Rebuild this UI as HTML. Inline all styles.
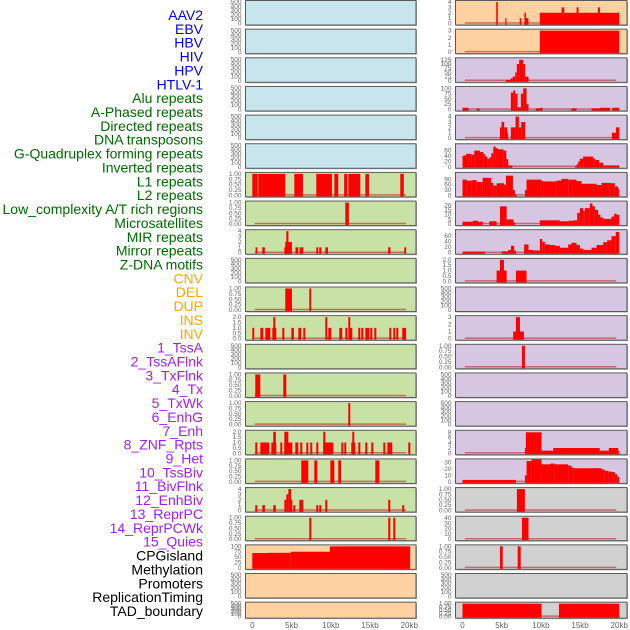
<!DOCTYPE html>
<html><head><meta charset="utf-8"><style>
html,body{margin:0;padding:0;background:#fff;width:630px;height:630px;overflow:hidden}
svg{display:block}
.lab{font-family:"Liberation Sans",sans-serif;font-size:14px}
.tk{font-family:"Liberation Sans",sans-serif;font-size:6.5px;fill:#666}
.xt{font-family:"Liberation Sans",sans-serif;font-size:8px;fill:#666}
</style></head><body>
<svg id="chart" width="630" height="630"></svg>
<script>
// ---- labels ----
const labelNames = ["AAV2","EBV","HBV","HIV","HPV","HTLV-1","Alu repeats","A-Phased repeats","Directed repeats","DNA transposons","G-Quadruplex forming repeats","Inverted repeats","L1 repeats","L2 repeats","Low_complexity A/T rich regions","Microsatellites","MIR repeats","Mirror repeats","Z-DNA motifs","CNV","DEL","DUP","INS","INV","1_TssA","2_TssAFlnk","3_TxFlnk","4_Tx","5_TxWk","6_EnhG","7_Enh","8_ZNF_Rpts","9_Het","10_TssBiv","11_BivFlnk","12_EnhBiv","13_ReprPC","14_ReprPCWk","15_Quies","CPGisland","Methylation","Promoters","ReplicationTiming","TAD_boundary"];
const labelGroupSizes = [6,13,5,15,5];
const groupColors = ["#0000ee","#006a00","#ffa500","#a020f0","#000000"];
// ---- axis ----
const xTickKb = [0,5,10,15,20];
const xTickLabels = ["0","5kb","10kb","15kb","20kb"];
const t500 = [0,100,200,300,400,500];
const t1 = [0,0.25,0.5,0.75,1];
const t1Lab = ["0.00","0.25","0.50","0.75","1.00"];
const t2 = [0,0.5,1,1.5,2];
const t2Lab = ["0.0","0.5","1.0","1.5","2.0"];
// ---- left column data: [startKb, endKb, value] ----
const L6 = [[0,0.68,1],[0.76,4.2,1],[5.35,6.45,1],[8.15,10.15,1],[10.45,10.95,1],[11.7,12.1,1],[12.23,13.76,1],[14.4,14.86,1],[18.85,19.3,1]];
const L7 = [[11.85,12.3,1]];
const L8 = [[0.42,0.64,1],[1.27,1.6,1],[4.08,4.33,1],[4.2,4.54,2],[4.33,4.6,4],[4.54,5.05,2],[5.5,5.86,1],[6.03,6.5,1],[8.15,8.4,1],[8.53,8.8,1],[9.3,9.64,1],[17.3,17.6,1],[19.36,19.6,1]];
const L10 = [[4.2,5.05,1],[7.26,7.5,1]];
const L11 = [[0,0.25,1],[1.02,1.4,1],[1.66,2.29,1],[2.55,3.06,1],[2.67,2.93,2],[3.82,4.08,1],[4.97,5.3,1],[5.86,6.24,1],[6.5,6.75,1],[9.3,9.55,2],[9.68,10.06,1],[11.08,11.46,1],[11.85,12.1,1],[12.23,12.48,2],[12.36,12.74,1],[13.5,13.76,1],[13.88,14.14,1],[14.4,14.9,1],[15.03,15.29,1],[15.54,15.8,1],[17.45,17.7,1],[17.96,18.2,1],[18.34,18.6,1],[19.1,19.6,1]];
const L13 = [[0.38,1.02,1],[3.95,4.33,1]];
const L14 = [[12.23,12.48,1]];
const L15 = [[0.38,0.64,1],[1.02,2.17,1],[2.42,3.06,1],[2.67,3.0,2],[3.57,3.82,1],[4.08,5.1,1],[4.08,4.59,2],[5.48,5.86,1],[6.11,6.37,1],[6.88,7.13,1],[7.39,7.64,1],[8.15,8.41,1],[9.04,10.32,1],[9.04,9.3,2],[11.34,11.59,1],[11.72,11.97,1],[12.61,13.12,1],[12.74,12.99,2],[13.5,13.76,1],[14.39,14.65,1],[15.16,15.41,1],[16.69,16.94,1],[17.2,17.83,1],[19.87,20.13,1]];
const L16 = [[6.24,7.13,1],[7.9,8.28,1],[9.94,10.45,1],[10.95,11.3,1],[15.67,16.18,1]];
const L17 = [[0.38,0.64,1],[1.27,1.6,1],[2.67,3.0,1],[4.08,4.33,2],[4.33,4.59,3],[4.59,4.93,4],[4.93,5.1,2],[5.22,5.48,1],[5.99,6.5,2],[8.15,8.41,1],[8.53,8.8,1],[9.3,9.55,2],[17.32,17.58,2],[19.1,19.36,1]];
const L18 = [[7.26,7.52,1],[17.32,17.58,1],[17.96,18.21,1]];
const L19 = [[0,2,69],[2,4.9,70],[4.9,9.9,75],[9.9,20.1,100]];
// ---- right column data ----
const R0 = [[4.3,4.5,4],[5.45,5.6,1],[7.3,7.5,1],[7.9,8.1,2],[8.1,8.4,1],[9.87,20,2],[12.64,12.98,3],[14.55,14.8,3],[17.28,17.53,3]];
const R1 = [[9.87,20,3]];
const R2 = [[5.53,6.13,5],[6.13,6.4,15],[6.4,6.72,25],[6.72,6.93,50],[6.93,7.23,100],[7.23,7.74,125],[7.74,8.0,100],[8.0,8.42,25]];
const R3 = [[0,0.77,8],[1.83,2.17,5],[6.17,6.47,80],[6.47,6.72,90],[6.72,7.02,75],[7.02,7.45,10],[7.45,7.74,75],[7.74,8.17,100],[8.17,8.42,25],[9.36,9.9,5],[9.9,10.2,8],[13.9,14.55,5],[16.47,17.53,5],[17.53,18.8,8],[19.1,20,8]];
const R4 = [[4.77,4.98,2],[4.98,5.32,3],[5.32,5.7,2],[5.7,5.79,1],[6.17,6.77,2],[6.77,7.19,4],[7.19,7.49,2],[7.49,8.0,3],[19.06,19.57,1],[19.57,20,2]];
const R5 = [[0,0.13,40],[0.13,0.45,42],[0.45,1.13,48],[1.13,1.5,45],[1.5,2.23,60],[2.23,2.65,55],[2.65,2.87,47],[2.87,3.16,38],[3.16,3.42,30],[3.42,3.67,35],[3.67,3.93,50],[3.93,4.22,75],[4.22,4.48,70],[4.48,5.2,65],[5.2,5.59,60],[5.59,5.84,28],[5.84,6.35,5],[14.37,14.58,3],[14.58,14.75,10],[14.75,14.97,20],[14.97,15.39,30],[15.39,16.66,38],[16.66,16.96,30],[16.96,17.43,25],[17.43,17.94,15],[17.94,20,5]];
const R6 = [[0,0.53,88],[0.53,1.17,82],[1.17,1.8,85],[1.8,2.57,75],[2.57,3.63,98],[3.63,3.93,70],[3.93,4.35,55],[4.35,5.29,68],[5.29,5.54,60],[5.54,6.43,110],[6.43,6.68,30],[6.68,6.9,5],[7.96,8.17,30],[8.17,10.08,88],[10.08,10.3,80],[10.3,12.0,78],[12.0,12.63,83],[12.63,13.48,92],[13.48,14.54,88],[14.54,15.18,80],[15.18,17.09,65],[17.09,17.73,58],[17.73,18.79,70],[18.79,19.43,68],[19.43,19.85,50],[19.85,20,38]];
const R7 = [[0,1.3,2.5],[1.3,2.0,3.5],[2.0,2.57,2.5],[3.42,4.35,3],[4.78,5.63,19],[5.63,6.47,5],[6.47,6.68,2],[9.87,12.42,4],[12.42,13.48,3],[13.48,14.12,3.5],[14.12,14.63,4],[14.63,14.97,12],[14.97,15.4,17],[15.4,15.6,14],[15.6,16.24,17],[16.24,16.58,22],[16.58,16.88,19],[16.88,17.3,15],[17.3,17.6,10],[17.6,17.94,7],[17.94,19.0,5.5],[19.0,19.34,8],[19.34,19.64,11],[19.64,20,10]];
const R8 = [[0,2.87,4],[4.99,5.84,5],[5.84,6.18,10],[6.18,6.6,25],[6.6,6.82,8],[7.86,8.42,30],[8.42,9.02,10],[9.02,9.87,8],[9.87,10.17,50],[10.17,10.5,40],[10.5,11.15,30],[11.15,11.78,28],[11.78,12.42,25],[12.42,13.48,18],[13.48,13.9,30],[13.9,14.54,36],[14.54,14.97,28],[14.97,15.4,15],[15.4,16.46,10],[16.46,17.1,18],[17.1,17.94,28],[17.94,18.45,38],[18.45,19.0,45],[19.0,19.55,60],[19.55,20,75]];
const R9 = [[4.35,4.78,1],[4.78,5.29,2],[5.29,5.63,1],[6.82,8.17,1]];
const R11 = [[6.47,6.82,1],[6.82,7.33,3],[7.33,7.83,1]];
const R12 = [[7.58,7.96,1]];
const R15 = [[7.96,8.08,2],[8.08,10.08,8],[10.08,11.57,1],[11.57,17.5,2],[17.5,18.66,1],[18.66,19.87,2],[19.87,20,1]];
const R16 = [[0,6.82,3],[7.96,8.17,10],[8.17,8.81,32],[8.81,10.08,35],[10.08,11.15,27],[11.15,11.78,28],[11.78,13.48,27],[13.48,13.9,25],[13.9,14.2,22],[14.2,17.73,21],[17.73,18.15,19],[18.15,18.58,17],[18.58,19.0,16],[19.0,19.43,15],[19.43,19.73,12],[19.73,20,8]];
const R17 = [[6.94,7.96,1]];
const R18 = [[7.58,8.42,41]];
const R19 = [[4.78,5.13,1],[7.04,7.42,1]];
const R21 = [[0,10.08,1],[12.3,20,1]];

const BLUE="#c8e4ec",GREEN="#c8e1a5",ORANGE="#fed1a0",PURPLE="#d6c6e2",GRAY="#d1d1d1";
const panels = [];
for(let r=0;r<22;r++){
  const fill = r<6?BLUE:(r<19?GREEN:ORANGE);
  panels.push({col:"L",row:r,fill,ymax:500,ticks:t500,tl:null,data:[]});
}
for(let r=0;r<22;r++){
  const fill = r<2?ORANGE:(r<17?PURPLE:GRAY);
  panels.push({col:"R",row:r,fill,ymax:500,ticks:t500,tl:null,data:[]});
}
function setP(col,row,data,ymax,ticks,tl){const p=panels[(col==="L"?0:22)+row];p.data=data;p.ymax=ymax;p.ticks=ticks;p.tl=tl||null;}
setP("L",6,L6,1,t1,t1Lab);setP("L",7,L7,1,t1,t1Lab);setP("L",8,L8,4,[0,1,2,3,4]);
setP("L",10,L10,1,t1,t1Lab);setP("L",11,L11,2,t2,t2Lab);setP("L",13,L13,1,t1,t1Lab);
setP("L",14,L14,1,t1,t1Lab);setP("L",15,L15,2,t2,t2Lab);setP("L",16,L16,1,t1,t1Lab);
setP("L",17,L17,4,[0,1,2,3,4]);setP("L",18,L18,1,t1,t1Lab);setP("L",19,L19,100,[0,25,50,75,100]);
setP("R",0,R0,4,[0,1,2,3,4]);setP("R",1,R1,3,[0,1,2,3]);setP("R",2,R2,128,[0,25,50,75,100,125]);
setP("R",3,R3,102,[0,25,50,75,100]);setP("R",4,R4,4,[0,1,2,3,4]);setP("R",5,R5,80,[0,20,40,60]);
setP("R",6,R6,120,[0,30,60,90]);setP("R",7,R7,23,[0,5,10,15,20]);setP("R",8,R8,78,[0,20,40,60]);
setP("R",9,R9,2,t2,t2Lab);setP("R",11,R11,3,[0,1,2,3]);setP("R",12,R12,1,t1,t1Lab);
setP("R",15,R15,8.2,[0,2,4,6,8]);setP("R",16,R16,33,[0,10,20,30]);setP("R",17,R17,1,t1,t1Lab);
setP("R",18,R18,41,[0,10,20,30,40]);setP("R",19,R19,1,t1,t1Lab);setP("R",21,R21,1,t1,t1Lab);

const NS="http://www.w3.org/2000/svg";
const svg=document.getElementById("chart");
function el(tag,attrs,parent){const e=document.createElementNS(NS,tag);for(const k in attrs)e.setAttribute(k,attrs[k]);(parent||svg).appendChild(e);return e;}
const COLS={L:{x0:252.3,x1:409.3,px:245.5,pw:170.5,tx:241.5},R:{x0:462.5,x1:619.3,px:455.5,pw:171.5,tx:451.5}};
function xs(col,kb){const c=COLS[col];return c.x0+(c.x1-c.x0)*kb/20;}

// labels
let idx=0;
labelGroupSizes.forEach((n,g)=>{for(let i=0;i<n;i++){
  const t=el("text",{x:203,y:15+idx*13.86+5,"text-anchor":"end",class:"lab",fill:groupColors[g]});
  t.textContent=labelNames[idx];
  
  
  idx++;}});

panels.forEach(p=>{
  const c=COLS[p.col];
  const top=p.row*28.65+0.5;
  const h=p.row===21?16:24.5;
  const g=el("g",{});
  
  
  el("rect",{x:c.px+1,y:top+1,width:c.pw,height:h,fill:"#aaa"},g);
  el("rect",{x:c.px,y:top,width:c.pw,height:h,fill:p.fill,stroke:"#5a5a5a","stroke-width":1},g);
  const yb=top+h-1.5, yt=top+1.5;
  const ys=v=>yb-(yb-yt)*v/p.ymax;
  p.ticks.forEach((t,i)=>{
    const tx=el("text",{x:c.tx,y:ys(t)+2,"text-anchor":"end",class:"tk"},g);
    tx.textContent=p.tl?p.tl[i]:String(t);
    
    
  });
  if(p.data.length){
    el("line",{x1:xs(p.col,0.3),x2:xs(p.col,19.6),y1:yb-0.5,y2:yb-0.5,stroke:"rgba(190,0,0,0.5)","stroke-width":1.5},g);
  }
  p.data.forEach(d=>{
    const x1=xs(p.col,d[0]),x2=xs(p.col,d[1]),y=Math.max(top+0.5,ys(d[2]));
    const b=el("rect",{x:x1,y:y,width:Math.max(1,x2-x1),height:yb+1-y,fill:"#ff0000"},g);
    
    
  });
});

["L","R"].forEach(col=>{
  xTickKb.forEach((k,i)=>{
    const t=el("text",{x:xs(col,k),y:628,"text-anchor":"middle",class:"xt"});
    t.textContent=xTickLabels[i];
    
    
  });
});
</script>
</body></html>
